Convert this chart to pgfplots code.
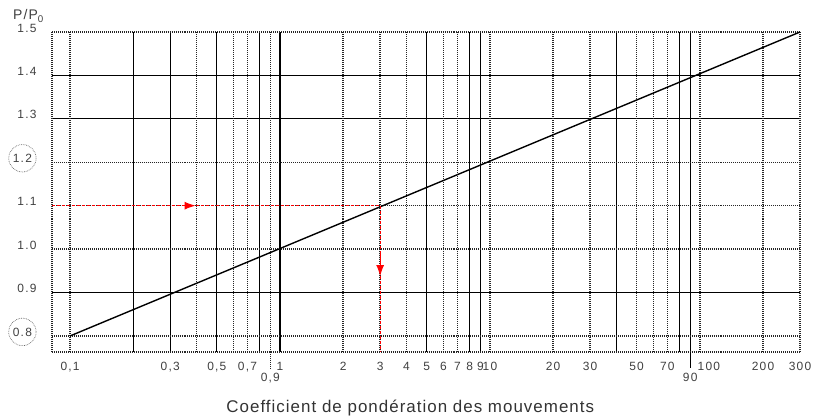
\documentclass[border=0pt]{standalone}
\usepackage{fontspec}
\setmainfont{Liberation Sans}
\usepackage{pgfplots}
\pgfplotsset{compat=1.18}
\usetikzlibrary{arrows.meta}
\tikzset{dotgrid/.style={draw=black!85, line width=1.5pt, dash pattern=on 1pt off 1pt},
  solgrid/.style={draw=black, line width=1.1pt}}
\newcommand{\circled}[1]{\tikz[baseline=(n.base)]\node[circle,draw=black!60,densely dotted,line width=0.7pt,inner sep=2.5pt](n){#1};}
\newcommand{\low}[1]{\rule{0pt}{19bp}#1}
\begin{document}
\begin{tikzpicture}
\path[use as bounding box] (-52bp,-66bp) rectangle (762bp,352bp);
\begin{axis}[
  at={(0,0)}, anchor=south west,
  scale only axis, width=748bp, height=320bp,
  xmode=log, xmin=0.082, xmax=300, ymin=0.763, ymax=1.5,
  axis x line*=bottom, axis y line*=left,
  axis line style={dotgrid, -},
  xtick={0.2,0.3,0.5,0.8,1,5,8,9,40,80,90},
  xticklabels={{},{0,3},{0,5},{},{1},{5},{8},{9},{},{},{\low{90}}},
  extra x ticks={0.1,0.4,0.6,0.7,0.9,2,3,4,6,7,10,20,30,50,60,70,100,200,300},
  extra x tick labels={{0,1},{},{},{0,7},{\low{0,9}},{2},{3},{4},{6},{7},{10},{20},{30},{50},{},{70},{\hspace*{18bp}100},{200},{300}},
  ytick={0.9,1.3,1.4},
  yticklabels={0.9,1.3,1.4},
  extra y ticks={0.8,1.0,1.1,1.2,1.5},
  extra y tick labels={{\circled{0.8}},{1.0},{1.1},{\circled{1.2}},{1.5}},
  xmajorgrids, ymajorgrids,
  major grid style={solgrid},
  extra x tick style={major grid style={dotgrid}, grid style={dotgrid}},
  extra y tick style={major grid style={dotgrid}, grid style={dotgrid}},
  major tick length=0, minor tick length=0, minor xtick={},
  tick label style={font=\fontsize{12}{14}\selectfont\addfontfeatures{LetterSpace=10}, text=black!75},
  xticklabel style={yshift=-7bp},
  yticklabel style={xshift=-12bp, yshift=4bp},
  clip=false,
]
\addplot[black, line width=1.4pt] coordinates {(0.1,0.8) (300,1.5)};
\addplot[red, line width=1.1pt, densely dashed] coordinates {(0.082,1.1) (3,1.1) (3,0.763)};
\addplot[red, line width=1pt, -{Latex[length=11bp,width=8bp]}] coordinates {(0.34,1.1) (0.396,1.1)};
\addplot[red, line width=1pt, -{Latex[length=11bp,width=8bp]}] coordinates {(3,0.99) (3,0.938)};
\draw[dotgrid] (axis cs:0.9,0.763) -- ++(0bp,-16bp);
\draw[solgrid] (axis cs:90,0.763) -- ++(0bp,-16bp);
\node[anchor=base west, inner sep=0pt, font=\fontsize{14}{16}\selectfont\addfontfeatures{LetterSpace=8}, text=black!75] at (rel axis cs:0,1) [xshift=-39bp, yshift=12bp] {P/P\textsubscript{0}};
\node[anchor=center, inner sep=0pt, font=\fontsize{17}{20}\selectfont\addfontfeatures{LetterSpace=6}, text=black!80] at (rel axis cs:0.479,0) [yshift=-56bp] {Coefficient de pondération des mouvements};
\end{axis}
\end{tikzpicture}
\end{document}
